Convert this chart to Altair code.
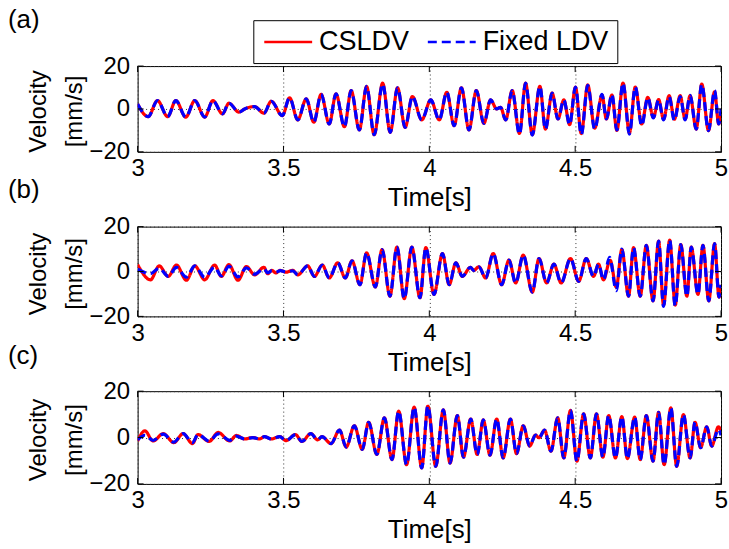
import altair as alt
import pandas as pd

FONT = "Liberation Sans"
SERIES = ["CSLDV", "Fixed LDV"]
COLORS = ["#ff0000", "#0000ff"]
DASHES = [[1, 0], [9, 5]]
PANEL_LABELS = ["(a)", "(b)", "(c)"]
X_TICKS = [3, 3.5, 4, 4.5, 5]
Y_TICKS = [-20, 0, 20]

# ---- panel (a): (time [s], velocity [mm/s]) at the peaks / troughs
A_CSLDV = [
    (3.000, 2.3), (3.036, -3.6), (3.068, 3.9), (3.103, -3.6), (3.131, 3.9), (3.165, -3.8),
    (3.196, 3.9), (3.230, -3.8), (3.258, 3.9), (3.291, -2.3), (3.313, 2.7), (3.347, -1.5),
    (3.367, 0.0), (3.401, 1.1), (3.433, -2.0), (3.458, 3.6), (3.496, -3.1), (3.521, 5.2),
    (3.549, -5.1), (3.578, 4.7), (3.604, -6.2), (3.629, 6.8), (3.657, -7.0), (3.680, 7.0),
    (3.709, -8.3), (3.732, 8.6), (3.760, -9.8), (3.785, 10.5), (3.811, -12.0), (3.840, 12.0),
    (3.866, -10.9), (3.891, 9.9), (3.917, -8.6), (3.942, 5.8), (3.974, -5.1), (4.005, 4.2),
    (4.034, -5.1), (4.060, 7.8), (4.085, -7.8), (4.110, 9.9), (4.136, -9.8), (4.161, 8.6),
    (4.187, -6.7), (4.210, 4.2), (4.231, 0.0), (4.244, 0.8), (4.262, -5.1), (4.284, 8.6),
    (4.309, -11.4), (4.330, 12.0), (4.353, -12.0), (4.379, 10.5), (4.398, -9.4), (4.421, 7.4),
    (4.441, -4.7), (4.461, 4.2), (4.481, -7.3), (4.501, 10.2), (4.521, -11.5), (4.543, 11.2),
    (4.567, -9.0), (4.592, 6.5), (4.607, -4.7), (4.626, 6.5), (4.643, -10.0), (4.664, 12.1),
    (4.686, -11.2), (4.706, 10.2), (4.728, -7.0), (4.749, 5.4), (4.768, -4.0), (4.786, 4.4),
    (4.803, -4.8), (4.822, 6.2), (4.840, -4.8), (4.860, 6.2), (4.877, -4.8), (4.894, 6.2),
    (4.915, -9.4), (4.934, 11.6), (4.957, -10.1), (4.978, 8.0), (4.992, -7.0), (5.000, -2.0),
]
A_FIXED = [
    (3.000, 2.3), (3.036, -3.6), (3.068, 3.9), (3.103, -3.6), (3.131, 3.9), (3.165, -3.8),
    (3.196, 3.9), (3.230, -3.8), (3.258, 3.9), (3.291, -2.3), (3.313, 2.7), (3.347, -1.5),
    (3.367, 0.0), (3.401, 1.1), (3.433, -2.0), (3.458, 3.6), (3.496, -3.1), (3.521, 5.2),
    (3.549, -5.1), (3.578, 4.7), (3.604, -6.2), (3.629, 6.8), (3.657, -7.0), (3.680, 7.0),
    (3.709, -8.3), (3.732, 8.6), (3.760, -9.8), (3.785, 10.5), (3.811, -12.0), (3.840, 11.6),
    (3.866, -10.9), (3.891, 9.9), (3.917, -8.6), (3.942, 5.8), (3.974, -5.1), (4.005, 4.2),
    (4.034, -5.1), (4.060, 7.8), (4.085, -7.8), (4.110, 9.9), (4.136, -9.8), (4.161, 8.6),
    (4.187, -6.7), (4.210, 4.2), (4.231, 0.0), (4.244, 0.8), (4.262, -5.1), (4.284, 8.6),
    (4.309, -11.8), (4.330, 12.0), (4.353, -12.2), (4.379, 10.5), (4.398, -9.4), (4.421, 7.4),
    (4.441, -4.7), (4.461, 4.2), (4.481, -7.3), (4.501, 10.2), (4.521, -12.0), (4.543, 11.0),
    (4.567, -9.4), (4.592, 6.8), (4.607, -4.7), (4.626, 6.8), (4.643, -9.8), (4.664, 12.0),
    (4.686, -11.7), (4.706, 10.2), (4.728, -7.8), (4.749, 5.2), (4.768, -4.2), (4.786, 4.2),
    (4.803, -5.1), (4.822, 5.8), (4.840, -5.4), (4.860, 5.8), (4.877, -5.1), (4.894, 6.3),
    (4.915, -9.4), (4.934, 11.4), (4.957, -10.1), (4.978, 8.6), (4.992, -7.0), (5.000, 0.0),
]

# ---- panel (b)
B_CSLDV = [
    (3.000, 3.1), (3.044, -3.7), (3.074, 2.5), (3.105, -2.2), (3.133, 2.9), (3.167, -3.9),
    (3.196, 2.5), (3.230, -3.7), (3.264, 2.9), (3.287, -2.2), (3.313, 3.1), (3.344, -3.9),
    (3.373, 2.2), (3.401, -1.5), (3.433, 1.9), (3.446, -1.0), (3.460, 0.5), (3.474, -0.6),
    (3.489, 0.5), (3.509, -0.3), (3.532, 0.5), (3.549, -1.5), (3.583, 2.5), (3.606, -2.2),
    (3.633, 2.9), (3.657, -2.9), (3.686, 3.9), (3.712, -2.9), (3.735, 4.8), (3.762, -5.9),
    (3.785, 8.3), (3.815, -6.9), (3.838, 9.8), (3.865, -11.0), (3.889, 10.9), (3.914, -12.1),
    (3.940, 10.9), (3.968, -11.7), (3.988, 10.6), (4.016, -10.2), (4.045, 8.0), (4.068, -5.9),
    (4.091, 3.9), (4.113, -2.2), (4.141, 1.9), (4.152, 0.5), (4.170, 2.1), (4.193, -2.9),
    (4.219, 8.0), (4.248, -5.9), (4.273, 5.1), (4.296, -5.1), (4.322, 7.3), (4.353, -9.2),
    (4.376, 5.8), (4.402, -5.1), (4.427, 3.3), (4.452, -5.1), (4.484, 5.8), (4.512, -4.4),
    (4.538, 5.8), (4.563, -2.2), (4.580, 3.3), (4.597, -3.7), (4.620, 5.0), (4.641, -7.0),
    (4.660, 9.8), (4.683, -11.0), (4.700, 10.6), (4.723, -11.0), (4.744, 11.7), (4.767, -13.1),
    (4.786, 13.5), (4.803, -15.0), (4.824, 14.0), (4.843, -15.0), (4.862, 12.0), (4.883, -11.0),
    (4.898, 10.9), (4.921, -10.2), (4.938, 11.7), (4.958, -13.1), (4.978, 12.4), (4.993, -11.4),
    (5.000, -6.0),
]
B_FIXED = [
    (3.000, 1.0), (3.044, -1.0), (3.074, 1.5), (3.105, -2.2), (3.133, 1.8), (3.167, -2.5),
    (3.196, 2.5), (3.230, -2.6), (3.264, 2.0), (3.287, -2.0), (3.313, 2.3), (3.344, -2.4),
    (3.373, 1.6), (3.401, -1.2), (3.433, 1.2), (3.446, -0.6), (3.460, 0.4), (3.474, -0.3),
    (3.489, 0.4), (3.509, -0.2), (3.532, 0.3), (3.549, -1.5), (3.583, 2.5), (3.606, -2.2),
    (3.633, 2.9), (3.657, -2.9), (3.686, 3.9), (3.712, -2.9), (3.735, 4.8), (3.762, -5.9),
    (3.785, 8.3), (3.815, -6.9), (3.838, 9.8), (3.865, -11.0), (3.889, 10.9), (3.914, -12.1),
    (3.940, 10.9), (3.968, -11.7), (3.988, 10.6), (4.016, -10.2), (4.045, 8.0), (4.068, -5.9),
    (4.091, 3.9), (4.113, -2.2), (4.141, 1.9), (4.152, 0.5), (4.170, 2.1), (4.193, -2.9),
    (4.219, 8.0), (4.248, -5.9), (4.273, 5.1), (4.296, -5.1), (4.322, 7.3), (4.353, -9.2),
    (4.376, 5.8), (4.402, -5.1), (4.427, 3.3), (4.452, -5.1), (4.484, 5.8), (4.512, -4.4),
    (4.538, 5.8), (4.563, -2.2), (4.580, 3.3), (4.597, -3.7), (4.618, 6.3), (4.641, -8.5),
    (4.660, 10.0), (4.683, -11.0), (4.700, 10.6), (4.723, -11.0), (4.744, 11.7), (4.767, -13.1),
    (4.786, 13.5), (4.803, -15.5), (4.824, 14.0), (4.843, -15.3), (4.862, 12.0), (4.883, -11.0),
    (4.898, 10.9), (4.921, -10.2), (4.938, 11.7), (4.958, -13.1), (4.978, 12.4), (4.993, -11.4),
    (5.000, -6.0),
]

# ---- panel (c)
C_CSLDV = [
    (3.000, -1.5), (3.025, 2.9), (3.053, -1.5), (3.088, 1.7), (3.124, -2.2), (3.156, 1.7),
    (3.188, -2.6), (3.207, 1.3), (3.245, -1.7), (3.276, 2.2), (3.316, -1.5), (3.338, 0.9),
    (3.367, -0.6), (3.395, 0.0), (3.418, -0.6), (3.435, 0.4), (3.458, -0.6), (3.487, 0.4),
    (3.509, -1.3), (3.541, 1.3), (3.563, -1.7), (3.594, 1.7), (3.617, -1.0), (3.632, 0.4),
    (3.663, -2.6), (3.692, 3.2), (3.715, -4.1), (3.743, 5.1), (3.770, -5.1), (3.792, 6.6),
    (3.820, -7.3), (3.846, 8.5), (3.872, -9.5), (3.895, 11.4), (3.922, -11.7), (3.948, 13.1),
    (3.974, -13.1), (3.995, 13.6), (4.022, -12.4), (4.048, 12.0), (4.071, -11.0), (4.096, 9.5),
    (4.117, -8.5), (4.142, 8.0), (4.164, -7.3), (4.185, 7.6), (4.208, -7.6), (4.231, 8.0),
    (4.253, -8.8), (4.278, 8.0), (4.299, -7.0), (4.322, 5.1), (4.344, -3.7), (4.364, 1.1),
    (4.376, -0.1), (4.395, 3.2), (4.417, -5.9), (4.440, 8.5), (4.461, -8.8), (4.484, 11.7),
    (4.506, -10.2), (4.529, 10.2), (4.552, -8.8), (4.573, 10.2), (4.595, -8.5), (4.615, 9.5),
    (4.638, -8.8), (4.660, 9.0), (4.679, -9.1), (4.704, 8.8), (4.723, -9.5), (4.744, 9.5),
    (4.767, -10.2), (4.786, 10.9), (4.805, -11.7), (4.828, 12.8), (4.848, -12.4), (4.871, 9.9),
    (4.894, -8.8), (4.911, 6.6), (4.930, -4.4), (4.951, 4.6), (4.968, -3.7), (4.991, 4.6),
    (5.000, 3.0),
]
C_FIXED = [
    (3.000, -1.0), (3.025, 1.0), (3.053, -1.2), (3.088, 1.5), (3.124, -2.0), (3.156, 1.7),
    (3.188, -2.2), (3.207, 1.3), (3.245, -1.5), (3.276, 1.6), (3.316, -1.2), (3.338, 0.6),
    (3.367, -0.6), (3.395, 0.0), (3.418, -0.6), (3.435, 0.4), (3.458, -0.6), (3.487, 0.4),
    (3.509, -1.3), (3.541, 1.3), (3.563, -1.7), (3.594, 1.7), (3.617, -1.0), (3.632, 0.4),
    (3.663, -2.6), (3.692, 3.2), (3.715, -4.1), (3.743, 5.1), (3.770, -5.1), (3.792, 6.6),
    (3.820, -7.3), (3.846, 8.5), (3.872, -9.5), (3.895, 11.4), (3.922, -11.7), (3.948, 13.1),
    (3.974, -13.1), (3.995, 13.6), (4.022, -12.4), (4.048, 12.0), (4.071, -11.0), (4.096, 9.5),
    (4.117, -8.5), (4.142, 8.0), (4.164, -7.3), (4.185, 7.6), (4.208, -7.6), (4.231, 8.0),
    (4.253, -8.8), (4.278, 8.0), (4.299, -7.0), (4.322, 5.1), (4.344, -3.7), (4.364, 1.1),
    (4.376, -0.1), (4.395, 3.2), (4.417, -5.9), (4.440, 8.5), (4.461, -8.8), (4.484, 11.7),
    (4.506, -10.2), (4.529, 10.2), (4.552, -8.8), (4.573, 10.2), (4.595, -8.5), (4.615, 9.5),
    (4.638, -8.8), (4.660, 9.0), (4.679, -9.1), (4.704, 8.8), (4.723, -9.5), (4.744, 9.5),
    (4.767, -10.2), (4.786, 10.9), (4.805, -11.7), (4.828, 12.8), (4.848, -12.4), (4.871, 9.9),
    (4.894, -8.8), (4.911, 6.6), (4.930, -4.4), (4.951, 4.6), (4.968, -3.7), (4.991, 3.5),
    (5.000, 1.0),
]

PANEL_DATA = [(A_CSLDV, A_FIXED), (B_CSLDV, B_FIXED), (C_CSLDV, C_FIXED)]
PANEL_HEIGHTS = [86, 90, 93]
LABEL_Y = [-38, -29, -27]
TICK_LEN = 6


def make_panel(i):
    red, blue = PANEL_DATA[i]
    rows = [{"t": t, "v": v, "series": SERIES[0]} for t, v in red]
    rows += [{"t": t, "v": v, "series": SERIES[1]} for t, v in blue]
    df = pd.DataFrame(rows)
    h = PANEL_HEIGHTS[i]

    if i == 0:
        leg = alt.Legend(
            title=None, orient="none", legendX=116, legendY=-46,
            direction="horizontal", symbolType="M-4.8,0H4.8", symbolSize=100,
            symbolStrokeWidth=2.5, symbolOffset=13.5, labelOffset=17.5,
            labelFontSize=27, labelFont=FONT, labelColor="black", labelLimit=400,
            columnPadding=13, padding=8, strokeColor="black", fillColor="white",
        )
    else:
        leg = None

    xscale = alt.Scale(domain=[3, 5], nice=False, zero=False)
    yscale = alt.Scale(domain=[-20, 20], nice=False)
    x = alt.X("t:Q", scale=xscale,
              axis=alt.Axis(values=X_TICKS, format="~g", title="Time[s]", labelFlush=False,
                            labelPadding=5, titleFontSize=26, titleY=54,
                            titleBaseline="alphabetic"))
    y = alt.Y("v:Q", scale=yscale,
              axis=alt.Axis(values=Y_TICKS, format="d", title=["Velocity", "[mm/s]"],
                            titleFontSize=24, titleX=-87, titleY=h / 2 + 2,
                            titleLineHeight=36))
    line = alt.Chart(df).mark_line(strokeWidth=3.2, interpolate="monotone", clip=True).encode(
        x=x, y=y,
        color=alt.Color("series:N", sort=SERIES,
                        scale=alt.Scale(domain=SERIES, range=COLORS), legend=leg),
        strokeDash=alt.StrokeDash("series:N", sort=SERIES,
                                  scale=alt.Scale(domain=SERIES, range=DASHES), legend=leg),
    )

    # inward tick marks on all four sides (MATLAB style box)
    xt = pd.DataFrame({"t": X_TICKS})
    yt = pd.DataFrame({"v": Y_TICKS})
    tick_style = dict(color="black", strokeWidth=1)
    xt_bottom = alt.Chart(xt).mark_rule(**tick_style).encode(
        x=alt.X("t:Q", scale=xscale), y=alt.value(h), y2=alt.value(h - TICK_LEN))
    xt_top = alt.Chart(xt).mark_rule(**tick_style).encode(
        x=alt.X("t:Q", scale=xscale), y=alt.value(0), y2=alt.value(TICK_LEN))
    yt_left = alt.Chart(yt).mark_rule(**tick_style).encode(
        y=alt.Y("v:Q", scale=yscale), x=alt.value(0), x2=alt.value(TICK_LEN))
    yt_right = alt.Chart(yt).mark_rule(**tick_style).encode(
        y=alt.Y("v:Q", scale=yscale), x=alt.value(585), x2=alt.value(585 - TICK_LEN))

    lab = alt.Chart(pd.DataFrame({"label": [PANEL_LABELS[i]]})).mark_text(
        align="left", baseline="alphabetic", fontSize=26, font=FONT, color="black"
    ).encode(text="label:N", x=alt.value(-130), y=alt.value(LABEL_Y[i]))
    return alt.layer(line, xt_bottom, xt_top, yt_left, yt_right, lab).properties(
        width=585, height=h)


chart = (
    alt.vconcat(make_panel(0), make_panel(1), make_panel(2), spacing=75, bounds="flush")
    .resolve_scale(color="independent", strokeDash="independent")
    .resolve_legend(color="independent", strokeDash="independent")
    .properties(padding={"left": 7, "top": 5.5, "right": 0, "bottom": 0}, background="white")
    .configure_view(stroke="black", strokeWidth=1)
    .configure_axis(
        grid=True, gridColor="#333333", gridDash=[1, 3], gridWidth=1, gridOpacity=1,
        ticks=False, tickSize=0, domain=False,
        labelFont=FONT, labelFontSize=24, labelColor="black", labelPadding=8,
        titleFont=FONT, titleFontWeight="normal", titleColor="black",
    )
)

chart.save("out.html", embed_options={"renderer": "svg", "actions": False})
